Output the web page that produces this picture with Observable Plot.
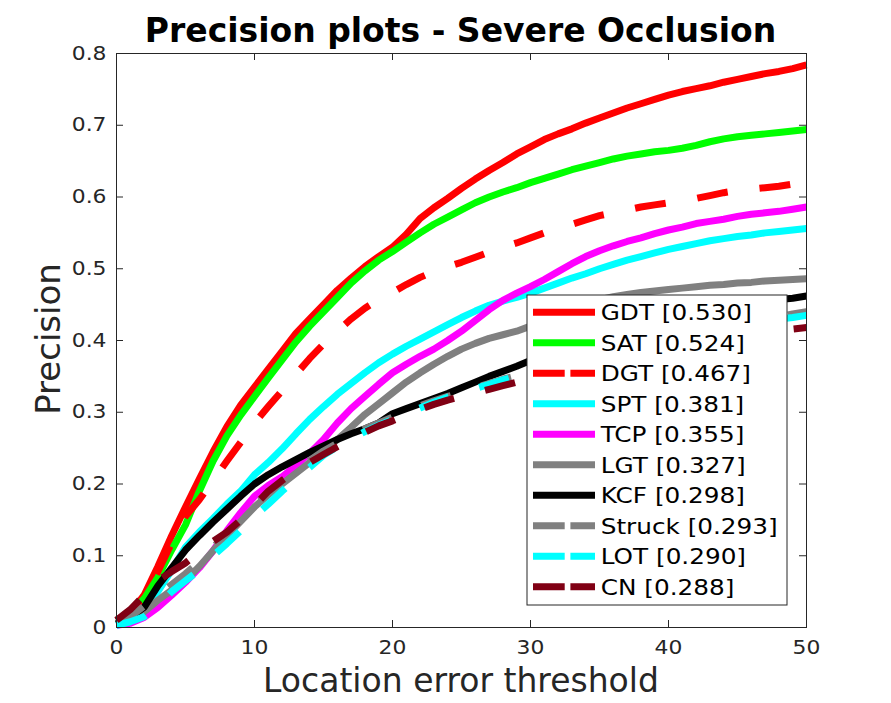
<!DOCTYPE html>
<html>
<head>
<meta charset="utf-8">
<script src="https://cdn.jsdelivr.net/npm/d3@7"></script>
<script src="https://cdn.jsdelivr.net/npm/@observablehq/plot@0.6"></script>
<style>
  html, body { margin: 0; padding: 0; background: white; }
  #chart { width: 891px; height: 703px; }
</style>
</head>
<body>
<div id="chart"></div>
<script>
// ---------- data ----------
const thresholds = [0,1,2,3,4,5,6,7,8,9,10,11,12,13,14,15,16,17,18,19,20,21,22,23,24,25,26,27,28,29,30,31,32,33,34,35,36,37,38,39,40,41,42,43,44,45,46,47,48,49,50];

const GDT = [0.01,0.02,0.045,0.085,0.128,0.168,0.207,0.245,0.28,0.31,0.335,
  0.36,0.385,0.41,0.43,0.45,0.47,0.487,0.503,0.517,0.53,
  0.548,0.57,0.585,0.598,0.612,0.625,0.637,0.648,0.66,0.67,
  0.68,0.688,0.695,0.703,0.71,0.717,0.724,0.73,0.736,0.742,
  0.747,0.751,0.755,0.76,0.764,0.768,0.772,0.775,0.779,0.784];
const SAT = [0.01,0.02,0.04,0.07,0.108,0.143,0.19,0.232,0.267,0.296,0.322,
  0.348,0.373,0.398,0.42,0.44,0.46,0.48,0.497,0.512,0.524,
  0.537,0.55,0.562,0.572,0.582,0.592,0.6,0.607,0.613,0.62,
  0.626,0.632,0.638,0.643,0.648,0.653,0.657,0.66,0.663,0.665,
  0.668,0.672,0.677,0.681,0.684,0.686,0.688,0.69,0.692,0.694];
const DGT = [0.01,0.02,0.04,0.078,0.118,0.155,0.178,0.205,0.232,0.258,0.285,
  0.308,0.33,0.353,0.375,0.395,0.413,0.43,0.445,0.457,0.467,
  0.478,0.488,0.496,0.503,0.509,0.516,0.523,0.53,0.536,0.543,
  0.55,0.556,0.562,0.568,0.574,0.578,0.582,0.586,0.589,0.592,
  0.595,0.598,0.602,0.606,0.609,0.611,0.613,0.615,0.618,0.621];
const SPT = [0.003,0.01,0.025,0.05,0.08,0.112,0.133,0.152,0.172,0.19,0.213,
  0.23,0.249,0.27,0.29,0.308,0.325,0.34,0.355,0.369,0.381,
  0.392,0.402,0.412,0.422,0.432,0.441,0.449,0.455,0.46,0.466,
  0.473,0.48,0.487,0.493,0.5,0.506,0.512,0.517,0.522,0.527,
  0.531,0.535,0.539,0.542,0.545,0.547,0.55,0.552,0.554,0.556];
const TCP = [0.003,0.006,0.014,0.028,0.045,0.063,0.083,0.107,0.135,0.16,0.183,
  0.198,0.21,0.226,0.243,0.262,0.285,0.305,0.322,0.339,0.355,
  0.367,0.378,0.388,0.4,0.413,0.428,0.443,0.456,0.466,0.475,
  0.485,0.496,0.507,0.517,0.525,0.532,0.538,0.543,0.549,0.554,
  0.558,0.563,0.566,0.569,0.573,0.576,0.578,0.58,0.583,0.586];
const LGT = [0.005,0.01,0.022,0.038,0.052,0.066,0.085,0.107,0.128,0.148,0.168,
  0.185,0.2,0.215,0.23,0.246,0.262,0.279,0.297,0.312,0.327,
  0.342,0.355,0.367,0.378,0.388,0.396,0.403,0.408,0.413,0.42,
  0.428,0.436,0.444,0.452,0.457,0.461,0.464,0.467,0.469,0.471,
  0.473,0.475,0.477,0.478,0.48,0.481,0.483,0.484,0.485,0.486];
const KCF = [0.005,0.015,0.028,0.058,0.083,0.108,0.128,0.147,0.165,0.183,0.2,
  0.213,0.224,0.234,0.244,0.253,0.262,0.27,0.277,0.285,0.298,
  0.305,0.312,0.319,0.326,0.334,0.342,0.35,0.357,0.364,0.372,
  0.38,0.388,0.395,0.402,0.408,0.414,0.419,0.424,0.429,0.433,
  0.437,0.44,0.443,0.446,0.449,0.452,0.455,0.457,0.459,0.462];
const Struck = [0.008,0.015,0.03,0.045,0.06,0.075,0.092,0.112,0.13,0.15,0.17,
  0.188,0.204,0.219,0.233,0.246,0.257,0.267,0.277,0.285,0.293,
  0.301,0.309,0.316,0.322,0.328,0.334,0.34,0.346,0.351,0.356,
  0.361,0.366,0.371,0.376,0.381,0.386,0.391,0.395,0.4,0.404,
  0.408,0.412,0.416,0.42,0.424,0.427,0.43,0.433,0.437,0.44];
const LOT = [0.003,0.008,0.015,0.03,0.05,0.065,0.08,0.1,0.117,0.135,0.155,
  0.172,0.19,0.207,0.223,0.24,0.252,0.263,0.273,0.282,0.29,
  0.298,0.306,0.314,0.321,0.327,0.333,0.339,0.345,0.35,0.355,
  0.36,0.365,0.37,0.375,0.38,0.385,0.39,0.394,0.398,0.402,
  0.406,0.41,0.414,0.418,0.421,0.424,0.427,0.43,0.432,0.435];
const CN = [0.01,0.025,0.045,0.065,0.078,0.09,0.105,0.12,0.133,0.15,0.17,
  0.19,0.205,0.218,0.23,0.241,0.252,0.262,0.272,0.281,0.288,
  0.296,0.304,0.311,0.317,0.322,0.327,0.332,0.337,0.342,0.347,
  0.352,0.357,0.362,0.367,0.371,0.375,0.379,0.383,0.387,0.39,
  0.393,0.396,0.399,0.402,0.405,0.408,0.411,0.413,0.416,0.418];

const seriesNames  = ["GDT","SAT","DGT","SPT","TCP","LGT","KCF","Struck","LOT","CN"];
const seriesValues = [GDT, SAT, DGT, SPT, TCP, LGT, KCF, Struck, LOT, CN];
const seriesScores = ["0.530","0.524","0.467","0.381","0.355","0.327","0.298","0.293","0.290","0.288"];
const seriesColors = ["#ff0000","#00ff00","#ff0000","#00ffff","#ff00ff","#808080","#000000","#808080","#00ffff","#800014"];
const seriesDashed = [false,false,true,false,false,false,false,true,true,true];

const xTicks = [0,10,20,30,40,50];
const yTicks = [0,0.1,0.2,0.3,0.4,0.5,0.6,0.7,0.8];

const titleText = "Precision plots - Severe Occlusion";
const xLabel = "Location error threshold";
const yLabel = "Precision";

// ---------- table ----------
const rows = [];
seriesNames.forEach((name, s) => {
  thresholds.forEach((t, i) => rows.push({series: name, x: t, y: seriesValues[s][i]}));
});

// ---------- layout ----------
const W = 891, H = 703;
const mL = 116, mR = 85, mT = 53, mB = 76;
const plotW = W - mL - mR, plotH = H - mT - mB;
const axisColor = "#262626";
const LW = 7;

const lineMarks = seriesNames.map((name, s) =>
  Plot.line(rows.filter(r => r.series === name), {
    x: "x", y: "y",
    stroke: seriesColors[s],
    strokeWidth: LW,
    strokeDasharray: seriesDashed[s] ? "31,32" : null,
    strokeLinejoin: "round",
    strokeLinecap: "butt"
  })
);

const svg = Plot.plot({
  width: W, height: H,
  marginLeft: mL, marginRight: mR, marginTop: mT, marginBottom: mB,
  x: {domain: [0, 50]},
  y: {domain: [0, 0.8]},
  style: {fontFamily: "DejaVu Sans", fontSize: "19px", color: axisColor, background: "white", overflow: "visible"},
  marks: [
    Plot.axisX({ticks: xTicks, tickSize: 0, tickPadding: 13, label: null, fontSize: 19, fill: axisColor}),
    Plot.axisY({ticks: yTicks, tickSize: 0, tickPadding: 10, label: null, fontSize: 19, fill: axisColor, tickFormat: d => String(d)}),
    ...lineMarks,
    Plot.tickX(xTicks, {x: d => d, stroke: axisColor, strokeWidth: 1, insetTop: plotH - 7}),
    Plot.tickX(xTicks, {x: d => d, stroke: axisColor, strokeWidth: 1, insetBottom: plotH - 7}),
    Plot.tickY(yTicks, {y: d => d, stroke: axisColor, strokeWidth: 1, insetLeft: plotW - 7}),
    Plot.tickY(yTicks, {y: d => d, stroke: axisColor, strokeWidth: 1, insetRight: plotW - 7}),
    Plot.frame({stroke: axisColor, strokeWidth: 1})
  ]
});

// stretch small tick labels horizontally (as in reference)
svg.querySelectorAll('g[aria-label="x-axis tick label"] text, g[aria-label="y-axis tick label"] text').forEach(t => {
  const tr = t.getAttribute("transform");
  if (tr) t.setAttribute("transform", tr + " scale(1.15,1)");
});

const sel = d3.select(svg);
// title
sel.append("text")
  .attr("x", 460.5).attr("y", 41.7)
  .attr("text-anchor", "middle")
  .style("font-family", "DejaVu Sans").style("font-weight", "bold").style("font-size", "33px")
  .attr("fill", "#000").text(titleText);
// x label
sel.append("text")
  .attr("x", 461).attr("y", 691.5)
  .attr("text-anchor", "middle")
  .style("font-family", "DejaVu Sans").style("font-size", "33px")
  .attr("fill", axisColor).text(xLabel);
// y label
sel.append("text")
  .attr("transform", "translate(60,339) rotate(-90)")
  .attr("text-anchor", "middle")
  .style("font-family", "DejaVu Sans").style("font-size", "34px")
  .attr("fill", axisColor).text(yLabel);

// legend
const lg = sel.append("g");
lg.append("rect")
  .attr("x", 527).attr("y", 295).attr("width", 260).attr("height", 310)
  .attr("fill", "white").attr("stroke", axisColor).attr("stroke-width", 1);
seriesNames.forEach((name, i) => {
  const cy = 312.3 + i * 30.5;
  lg.append("line")
    .attr("x1", 533).attr("x2", 595).attr("y1", cy).attr("y2", cy)
    .attr("stroke", seriesColors[i]).attr("stroke-width", LW)
    .attr("stroke-dasharray", seriesDashed[i] ? "31.7,5.7" : null);
  lg.append("text")
    .attr("transform", `translate(600.7,${cy + 7.7}) scale(1.15,1)`)
    .attr("text-anchor", "start")
    .style("font-family", "DejaVu Sans").style("font-size", "21.5px")
    .attr("fill", "#000")
    .text(`${name} [${seriesScores[i]}]`);
});

document.getElementById("chart").appendChild(svg);
</script>
</body>
</html>
